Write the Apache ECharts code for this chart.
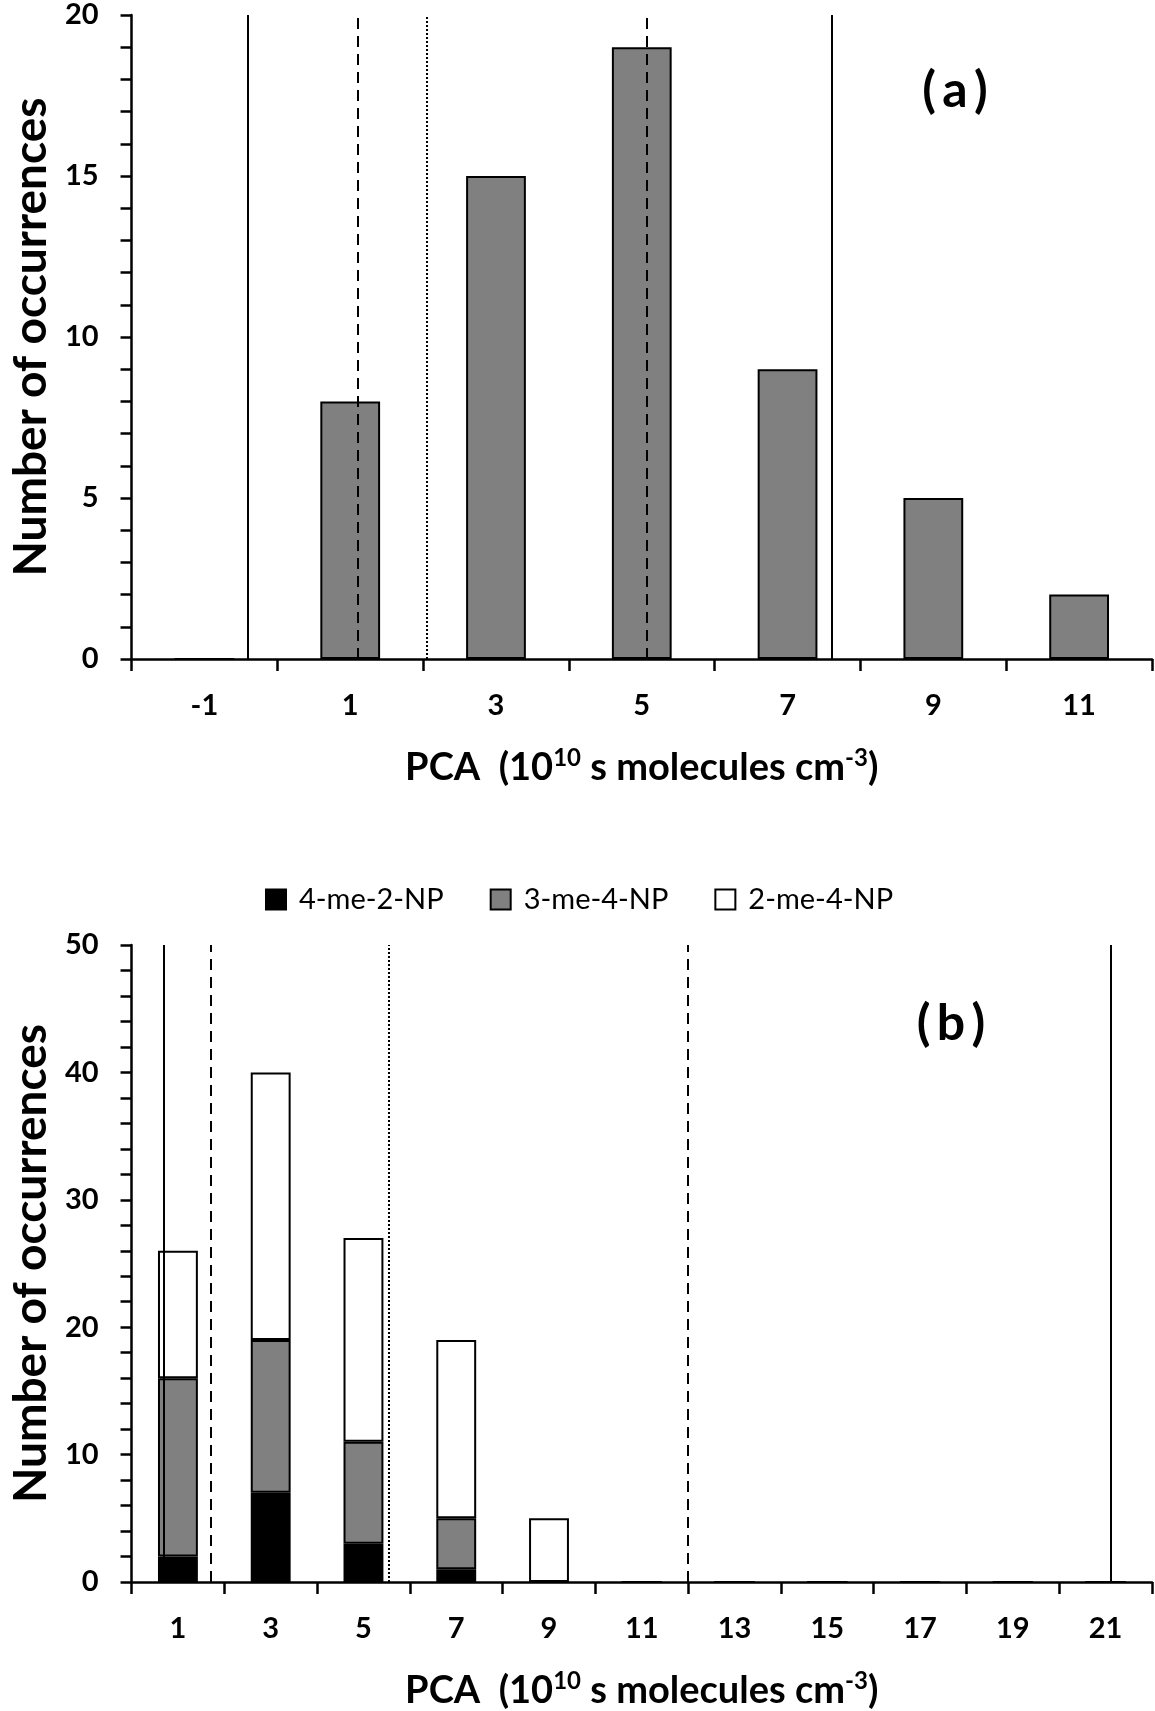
<!DOCTYPE html>
<html>
<head>
<meta charset="utf-8">
<script src="https://cdn.jsdelivr.net/npm/echarts@6/dist/echarts.min.js"></script>
<style>
html,body{margin:0;padding:0;background:#fff;}
#chart{width:1155px;height:1711px;}
</style>
</head>
<body>
<div id="chart"></div>
<script>
// ---- Data ----
const topCategories = ['-1', '1', '3', '5', '7', '9', '11'];
const topCounts = [0, 8, 15, 19, 9, 5, 2];
const topLines = [
  { x: -0.4, type: 'solid' },
  { x: 1.1, type: 'dashed' },
  { x: 2.05, type: 'dotted' },
  { x: 5.07, type: 'dashed' },
  { x: 7.6, type: 'solid' }
];

const bottomCategories = ['1', '3', '5', '7', '9', '11', '13', '15', '17', '19', '21'];
const series4me2NP = [2, 7, 3, 1, 0, 0, 0, 0, 0, 0, 0];
const series3me4NP = [14, 12, 8, 4, 0, 0, 0, 0, 0, 0, 0];
const series2me4NP = [10, 21, 16, 14, 5, 0, 0, 0, 0, 0, 0];
const bottomLines = [
  { x: 0.7, type: 'solid' },
  { x: 1.7, type: 'dashed' },
  { x: 5.55, type: 'dotted' },
  { x: 12.0, type: 'dashed' },
  { x: 21.1, type: 'solid' }
];

// ---- Styles ----
const FONT = 'Lato, "Liberation Sans", "DejaVu Sans", sans-serif';
const AXIS_COLOR = '#000';

function dashFor(t) {
  if (t === 'dashed') return [11, 7];
  if (t === 'dotted') return [2, 2];
  return 'solid';
}
function markLinesFrom(arr) {
  return arr.map(l => ({
    xAxis: l.x,
    lineStyle: { color: '#000', width: 2, type: dashFor(l.type) }
  }));
}

const xTitle = '{t|PCA  (10}{s|10}{t| s molecules cm}{s|-3}{t|)}';
const xTitleStyle = {
  rich: {
    t: { fontSize: 38, fontWeight: 'bold', fontFamily: FONT, color: '#000' },
    s: { fontSize: 24, fontWeight: 'bold', fontFamily: FONT, color: '#000', padding: [0, 0, 20, 0] }
  }
};

function catAxis(gridIndex, cats) {
  return {
    type: 'category', gridIndex: gridIndex, data: cats, boundaryGap: true,
    axisLine: { onZero: false, lineStyle: { color: AXIS_COLOR, width: 2.5 } },
    axisTick: { show: true, length: 12, lineStyle: { color: AXIS_COLOR, width: 2.5 } },
    axisLabel: { color: '#000', fontSize: 29, fontWeight: 'bold', fontFamily: FONT, margin: 32 },
    splitLine: { show: false },
    name: xTitle, nameLocation: 'middle', nameGap: 87, nameTextStyle: xTitleStyle
  };
}
function hiddenValAxis(gridIndex, min, max) {
  return {
    type: 'value', gridIndex: gridIndex, min: min, max: max, show: false,
    axisLine: { show: false, onZero: false }, splitLine: { show: false }
  };
}
function valAxis(gridIndex, max, interval) {
  return {
    type: 'value', gridIndex: gridIndex, min: 0, max: max, interval: interval,
    axisLine: { show: true, onZero: false, lineStyle: { color: AXIS_COLOR, width: 2.5 } },
    axisTick: { show: true, length: 11, lineStyle: { color: AXIS_COLOR, width: 2.5 } },
    minorTick: { show: true, splitNumber: 5, length: 11, lineStyle: { color: AXIS_COLOR, width: 2.5 } },
    axisLabel: { color: '#000', fontSize: 29, fontWeight: 'bold', fontFamily: FONT, margin: 33 },
    splitLine: { show: false },
    name: 'Number of occurrences', nameLocation: 'middle', nameRotate: 90, nameGap: 76,
    nameTextStyle: { color: '#000', fontSize: 46, fontWeight: 'bold', fontFamily: FONT }
  };
}

const chart = echarts.init(document.getElementById('chart'), null, { renderer: 'canvas' });
const option = {
  backgroundColor: '#fff',
  animation: false,
  textStyle: { fontFamily: FONT },
  grid: [
    { left: 122, right: 3, top: 15, height: 644 },
    { left: 122, right: 3, top: 945, height: 647 }
  ],
  xAxis: [
    catAxis(0, topCategories),
    hiddenValAxis(0, -2, 12),
    catAxis(1, bottomCategories),
    hiddenValAxis(1, 0, 22)
  ],
  yAxis: [
    valAxis(0, 20, 5),
    valAxis(1, 50, 10)
  ],
  legend: {
    left: 260, top: 880,
    itemWidth: 20, itemHeight: 20, itemGap: 46,
    icon: 'rect',
    textStyle: { color: '#000', fontSize: 29, fontFamily: FONT, padding: [0, 0, 0, 8] },
    data: ['4-me-2-NP', '3-me-4-NP', '2-me-4-NP']
  },
  graphic: [
    { type: 'text', x: 955, y: 91, style: { text: '(\u2009a\u2009)', fontSize: 50, fontWeight: 'bold', fontFamily: FONT, fill: '#000', align: 'center', verticalAlign: 'middle' } },
    { type: 'text', x: 951, y: 1024, style: { text: '(\u2009b\u2009)', fontSize: 50, fontWeight: 'bold', fontFamily: FONT, fill: '#000', align: 'center', verticalAlign: 'middle' } }
  ],
  series: [
    {
      type: 'bar', xAxisIndex: 0, yAxisIndex: 0, data: topCounts, barWidth: '41%',
      itemStyle: { color: '#808080', borderColor: '#000', borderWidth: 2 }
    },
    {
      type: 'line', xAxisIndex: 1, yAxisIndex: 0, data: [], z: 5, silent: true,
      markLine: { symbol: ['none', 'none'], silent: true, label: { show: false }, data: markLinesFrom(topLines) }
    },
    {
      name: '4-me-2-NP', type: 'bar', stack: 'b', xAxisIndex: 2, yAxisIndex: 1, data: series4me2NP, barWidth: '43%',
      itemStyle: { color: '#000', borderColor: '#000', borderWidth: 2 }
    },
    {
      name: '3-me-4-NP', type: 'bar', stack: 'b', xAxisIndex: 2, yAxisIndex: 1, data: series3me4NP, barWidth: '43%',
      itemStyle: { color: '#808080', borderColor: '#000', borderWidth: 2 }
    },
    {
      name: '2-me-4-NP', type: 'bar', stack: 'b', xAxisIndex: 2, yAxisIndex: 1, data: series2me4NP, barWidth: '43%',
      itemStyle: { color: '#fff', borderColor: '#000', borderWidth: 2 }
    },
    {
      type: 'line', xAxisIndex: 3, yAxisIndex: 1, data: [], z: 5, silent: true,
      markLine: { symbol: ['none', 'none'], silent: true, label: { show: false }, data: markLinesFrom(bottomLines) }
    }
  ]
};
chart.setOption(option);
</script>
</body>
</html>
